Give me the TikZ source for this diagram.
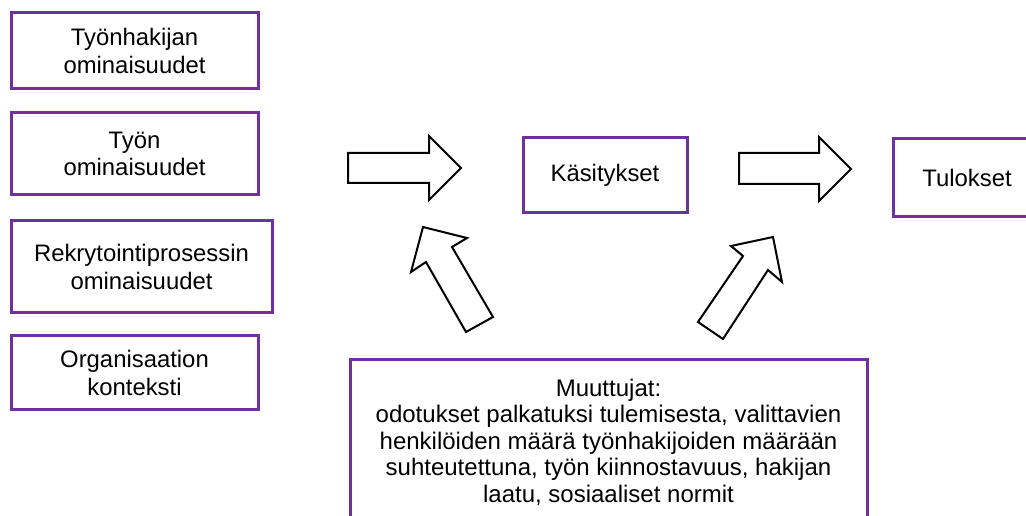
\documentclass[tikz,border=0pt]{standalone}
\usepackage{fontspec}
\setmainfont{Liberation Sans}
\definecolor{boxpurple}{HTML}{7030A0}
\tikzset{
  factor/.style={draw=boxpurple, line width=2.25pt, fill=white, inner sep=0pt,
    align=center, font=\fontsize{17.9}{20.4}\selectfont},
  blockarrow/.style={draw=black, line width=1.5pt, fill=white, line join=miter},
  bodytext/.style={inner sep=0pt, align=center, font=\fontsize{18}{19.9}\selectfont}
}
\begin{document}
\begin{tikzpicture}[x=0.75pt, y=-0.75pt]
  \useasboundingbox (0,0) rectangle (1026,516);
  \clip (0,0) rectangle (1026,516);

  % factor boxes on the left
  \node[factor, minimum width=185.25pt, minimum height=57pt] (applicant) at (134.5,51)
    {Työnhakijan\\ominaisuudet};
  \node[factor, minimum width=185.25pt, minimum height=61.5pt] (job) at (134.5,154)
    {Työn\\ominaisuudet};
  \node[factor, minimum width=195.75pt, minimum height=69pt] (process) at (141.5,267)
    {Rekrytointiprosessin\\ominaisuudet};
  \node[factor, minimum width=185.25pt, minimum height=55.5pt] (context) at (134.5,373)
    {Organisaation\\konteksti};

  % perceptions and outcomes
  \node[factor, minimum width=123pt, minimum height=56.25pt] (perceptions) at (605,175.5)
    {Käsitykset};
  \node[factor, minimum width=111pt, minimum height=58.5pt] (outcomes) at (967,178)
    {Tulokset};

  % moderating variables
  \node[factor, minimum width=387.75pt, minimum height=135pt] (moderators) at (608.5,450) {};
  \node[bodytext] (moderatortext) at (608.5,442)
    {Muuttujat:\\odotukset palkatuksi tulemisesta, valittavien\\henkilöiden määrä työnhakijoiden määrään\\suhteutettuna, työn kiinnostavuus, hakijan\\laatu, sosiaaliset normit};

  % block arrows: factors -> perceptions -> outcomes
  \draw[blockarrow] (348,153) -- (429,153) -- (429,136) -- (461,168) -- (429,200)
    -- (429,183) -- (348,183) -- cycle;
  \draw[blockarrow] (739,153) -- (819,153) -- (819,137) -- (851,169) -- (819,201)
    -- (819,184) -- (739,184) -- cycle;

  % block arrows from the moderators
  \draw[blockarrow] (423,227) -- (467,238) -- (452,247) -- (493,317) -- (466,332)
    -- (426,262) -- (411,272) -- cycle;
  \draw[blockarrow] (773,237) -- (782,282) -- (768,270) -- (723,339) -- (698,322)
    -- (743,256) -- (731,246) -- cycle;
\end{tikzpicture}
\end{document}
